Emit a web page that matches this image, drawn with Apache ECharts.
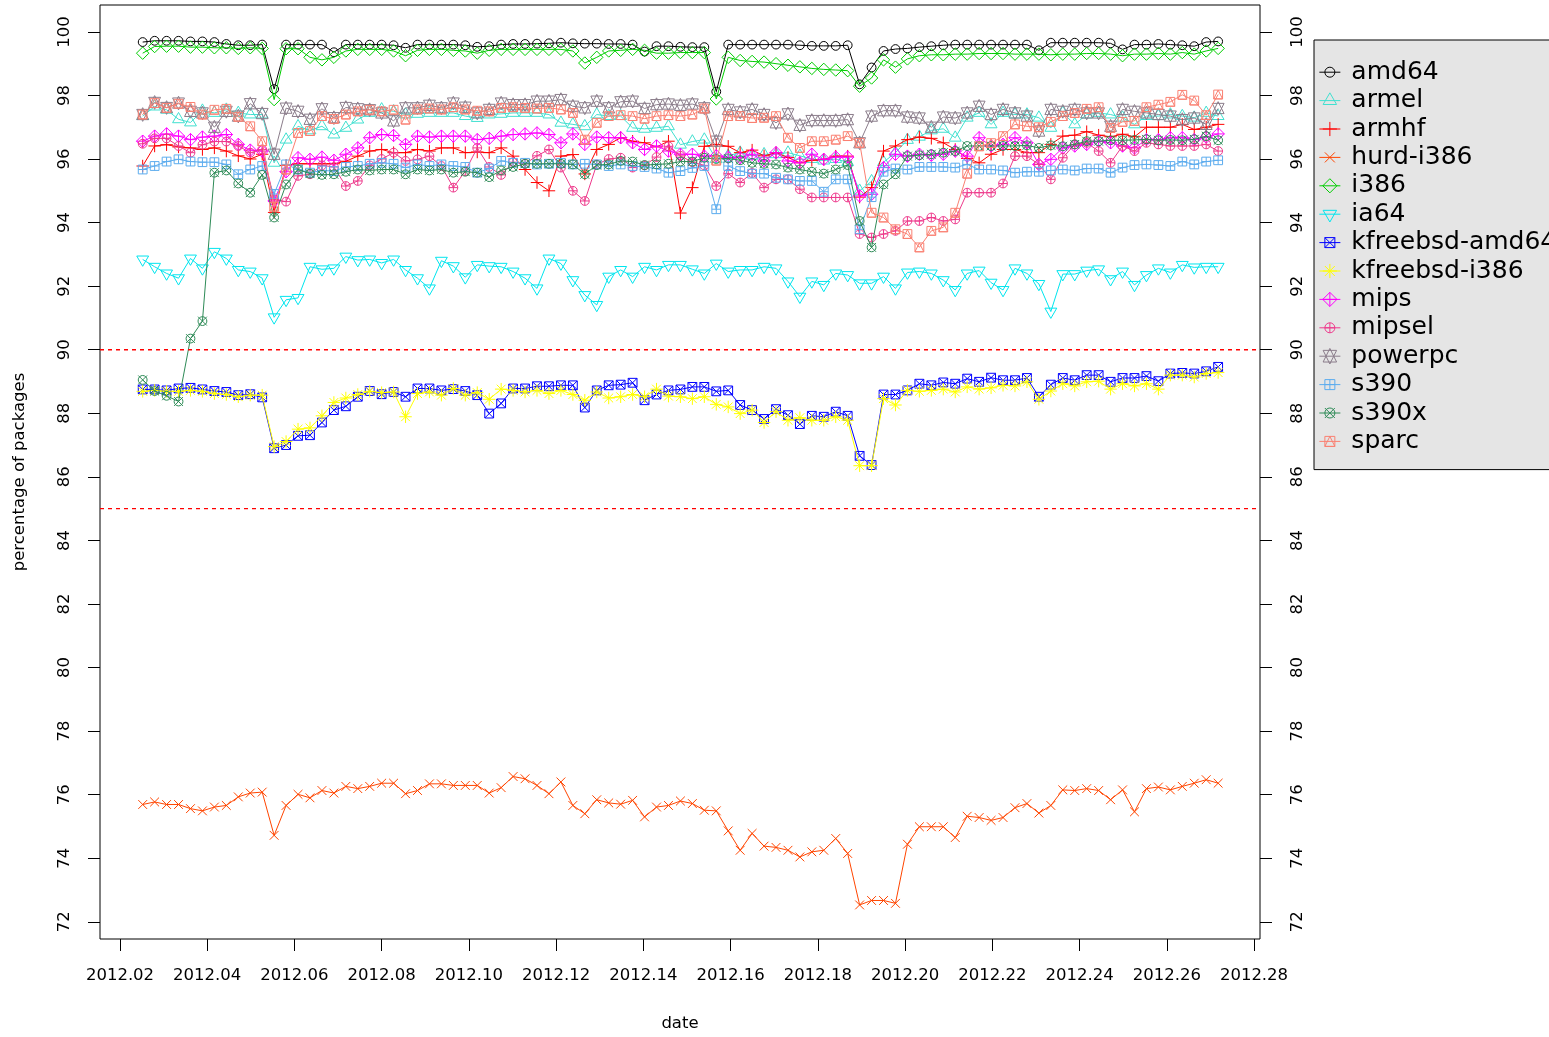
<!DOCTYPE html>
<html>
<head>
<meta charset="utf-8">
<script src="https://cdn.jsdelivr.net/npm/echarts@6/dist/echarts.min.js"></script>
<style>
html,body{margin:0;padding:0;background:#fff;}
#chart{width:1549px;height:1037px;}
</style>
</head>
<body>
<div id="chart"></div>
<script>
// ---- data ----
const firstDate = 2012.0252;      // first observation (fractional year)
const dayStep = 1 / 365;          // one observation per day
const nDays = 91;
const dates = Array.from({length: nDays}, (_, i) => +(firstDate + i * dayStep).toFixed(5));

const xTicks = [2012.02,2012.04,2012.06,2012.08,2012.10,2012.12,2012.14,2012.16,2012.18,2012.20,2012.22,2012.24,2012.26,2012.28];
const yTicks = [72,74,76,78,80,82,84,86,88,90,92,94,96,98,100];
const thresholds = [90, 85];

const amd64 = [99.68,99.72,99.72,99.72,99.70,99.70,99.68,99.62,99.58,99.58,99.60,98.20,99.60,99.60,99.60,99.60,99.36,99.60,99.60,99.60,99.60,99.58,99.50,99.60,99.60,99.60,99.60,99.58,99.53,99.55,99.60,99.62,99.62,99.63,99.64,99.66,99.64,99.63,99.63,99.62,99.62,99.60,99.38,99.55,99.55,99.53,99.52,99.52,98.12,99.60,99.60,99.60,99.60,99.60,99.60,99.58,99.56,99.56,99.56,99.58,98.35,98.88,99.40,99.46,99.48,99.52,99.55,99.58,99.60,99.60,99.60,99.60,99.60,99.60,99.60,99.42,99.66,99.66,99.66,99.66,99.66,99.64,99.45,99.60,99.60,99.62,99.60,99.58,99.55,99.68,99.70];
const armel = [97.35,97.65,97.55,97.25,97.15,97.52,97.45,97.55,97.45,97.40,97.40,95.88,96.61,97.03,96.90,97.03,96.77,96.98,97.24,97.45,97.56,97.50,97.40,97.42,97.45,97.45,97.45,97.35,97.29,97.40,97.42,97.45,97.45,97.45,97.40,97.14,97.09,97.03,97.40,97.35,97.35,96.98,96.95,96.98,97.03,96.45,96.55,96.61,96.00,96.10,96.20,96.10,96.15,96.15,96.20,96.10,96.00,95.95,96.00,95.90,95.00,95.30,95.90,96.20,96.60,96.70,96.90,96.95,96.67,97.30,97.45,97.09,97.45,97.40,97.40,97.30,96.98,97.45,97.09,97.40,97.45,97.40,97.30,97.09,97.35,97.35,97.40,97.35,97.30,97.45,97.35];
const armhf = [95.78,96.41,96.45,96.38,96.35,96.30,96.35,96.25,96.10,96.00,96.15,94.32,95.80,95.85,95.85,95.85,95.85,95.93,96.09,96.25,96.30,96.20,96.20,96.30,96.25,96.35,96.35,96.20,96.22,96.20,96.35,96.09,95.67,95.26,95.00,96.09,96.14,95.53,96.30,96.46,96.67,96.56,96.51,96.38,96.56,94.30,95.10,96.40,96.46,96.40,96.20,96.28,96.10,96.20,96.05,95.88,95.96,95.99,96.09,96.09,94.80,95.10,96.25,96.41,96.61,96.69,96.65,96.51,96.30,96.02,95.88,96.15,96.30,96.30,96.20,96.20,96.46,96.72,96.75,96.86,96.75,96.70,96.78,96.70,97.00,97.00,97.00,97.09,96.93,97.00,97.09];
const hurd = [75.69,75.77,75.69,75.69,75.56,75.49,75.61,75.66,75.93,76.05,76.08,74.72,75.66,76.01,75.90,76.13,76.05,76.26,76.19,76.26,76.36,76.36,76.03,76.13,76.34,76.34,76.29,76.29,76.29,76.05,76.22,76.57,76.50,76.29,76.03,76.40,75.66,75.40,75.84,75.74,75.70,75.82,75.30,75.61,75.66,75.80,75.72,75.51,75.49,74.86,74.25,74.78,74.38,74.34,74.25,74.04,74.20,74.25,74.62,74.15,72.53,72.67,72.67,72.58,74.44,74.99,74.99,74.99,74.65,75.32,75.28,75.19,75.28,75.59,75.72,75.42,75.66,76.15,76.13,76.19,76.13,75.84,76.15,75.46,76.19,76.24,76.15,76.26,76.36,76.47,76.36];
const i386 = [99.33,99.54,99.55,99.55,99.52,99.52,99.50,99.50,99.48,99.50,99.48,97.87,99.47,99.47,99.20,99.12,99.20,99.40,99.45,99.45,99.45,99.40,99.25,99.42,99.45,99.45,99.42,99.40,99.33,99.42,99.45,99.45,99.45,99.45,99.45,99.45,99.40,99.02,99.20,99.40,99.42,99.45,99.42,99.33,99.33,99.35,99.35,99.35,97.89,99.20,99.10,99.07,99.05,99.00,98.95,98.90,98.85,98.82,98.80,98.78,98.29,98.55,99.12,98.89,99.15,99.25,99.28,99.28,99.30,99.30,99.32,99.32,99.32,99.30,99.30,99.30,99.28,99.30,99.30,99.32,99.32,99.30,99.25,99.30,99.30,99.32,99.30,99.35,99.30,99.40,99.48];
const ia64 = [92.84,92.61,92.40,92.25,92.87,92.56,93.08,92.87,92.51,92.46,92.25,91.02,91.57,91.63,92.61,92.53,92.56,92.93,92.82,92.84,92.73,92.84,92.51,92.25,91.93,92.80,92.63,92.28,92.67,92.63,92.61,92.46,92.25,91.93,92.87,92.71,92.19,91.72,91.41,92.30,92.51,92.30,92.61,92.51,92.67,92.67,92.53,92.40,92.71,92.46,92.51,92.51,92.61,92.56,92.15,91.67,92.15,92.04,92.40,92.35,92.09,92.09,92.30,91.93,92.43,92.46,92.40,92.19,91.88,92.40,92.49,92.11,91.88,92.56,92.40,92.07,91.20,92.38,92.38,92.49,92.53,92.22,92.46,92.04,92.35,92.56,92.43,92.67,92.59,92.61,92.61];
const kfreebsdAmd64 = [88.75,88.75,88.72,88.78,88.80,88.75,88.70,88.67,88.57,88.60,88.50,86.90,87.00,87.29,87.31,87.71,88.10,88.22,88.52,88.70,88.60,88.67,88.52,88.78,88.78,88.72,88.76,88.70,88.57,87.99,88.31,88.78,88.78,88.85,88.85,88.88,88.88,88.18,88.72,88.88,88.90,88.96,88.41,88.59,88.72,88.75,88.83,88.83,88.69,88.72,88.26,88.10,87.82,88.13,87.94,87.66,87.92,87.89,88.05,87.92,86.66,86.37,88.59,88.59,88.72,88.93,88.88,88.97,88.93,89.09,88.99,89.12,89.04,89.04,89.11,88.52,88.90,89.11,89.04,89.20,89.20,88.99,89.11,89.11,89.17,89.01,89.25,89.27,89.25,89.32,89.46];
const kfreebsdI386 = [88.69,88.72,88.69,88.69,88.72,88.69,88.62,88.59,88.52,88.57,88.57,86.95,87.11,87.50,87.54,87.92,88.34,88.48,88.59,88.69,88.65,88.67,87.89,88.62,88.67,88.57,88.78,88.57,88.65,88.44,88.76,88.72,88.67,88.72,88.62,88.72,88.59,88.41,88.67,88.48,88.52,88.59,88.52,88.76,88.54,88.52,88.46,88.52,88.28,88.20,87.99,88.10,87.71,88.05,87.78,87.86,87.78,87.78,87.89,87.78,86.35,86.35,88.46,88.26,88.72,88.69,88.72,88.76,88.67,88.83,88.76,88.80,88.88,88.86,88.99,88.44,88.70,88.93,88.86,88.99,89.01,88.76,88.93,88.86,88.93,88.76,89.20,89.20,89.14,89.25,89.28];
const mips = [96.56,96.72,96.79,96.72,96.61,96.69,96.72,96.77,96.46,96.28,96.25,94.68,95.60,96.04,95.99,96.06,95.96,96.15,96.35,96.67,96.77,96.74,96.46,96.72,96.69,96.72,96.72,96.72,96.61,96.65,96.72,96.77,96.79,96.82,96.77,96.51,96.79,96.46,96.69,96.67,96.67,96.51,96.30,96.41,96.25,96.15,96.15,96.09,96.10,96.05,96.04,96.15,95.94,96.20,95.94,95.88,96.15,95.99,96.06,96.06,94.84,94.89,95.73,96.15,96.09,96.15,96.12,96.15,96.25,96.09,96.67,96.41,96.46,96.67,96.51,95.83,95.99,96.35,96.41,96.46,96.56,96.51,96.41,96.35,96.61,96.61,96.67,96.67,96.61,96.69,96.79];
const mipsel = [96.48,96.65,96.65,96.41,96.20,96.45,96.55,96.55,96.41,96.20,96.30,94.73,94.66,95.47,95.52,95.80,95.75,95.15,95.31,95.80,96.00,96.20,95.94,95.99,96.09,95.78,95.10,95.62,96.35,95.75,95.50,95.90,95.85,96.10,96.30,95.73,95.00,94.68,95.83,96.00,96.04,95.73,95.80,96.06,96.40,96.10,95.90,95.80,95.15,95.54,95.26,95.56,95.10,95.36,95.36,95.05,94.79,94.79,94.79,94.79,93.64,93.53,93.64,93.74,94.05,94.05,94.16,94.05,94.10,94.94,94.94,94.94,95.23,96.09,96.09,95.83,95.36,96.04,96.46,96.51,96.25,95.88,96.41,96.25,96.51,96.46,96.41,96.41,96.41,96.46,96.25];
const powerpc = [97.40,97.78,97.62,97.76,97.50,97.45,97.00,97.50,97.35,97.74,97.43,96.15,97.60,97.50,97.25,97.58,97.30,97.62,97.58,97.55,97.45,97.20,97.61,97.61,97.69,97.61,97.76,97.63,97.45,97.56,97.76,97.71,97.71,97.82,97.82,97.87,97.66,97.61,97.82,97.61,97.80,97.82,97.59,97.71,97.73,97.69,97.73,97.61,96.56,97.56,97.48,97.56,97.40,97.14,97.42,97.06,97.21,97.21,97.21,97.24,96.51,97.35,97.52,97.52,97.32,97.29,97.00,97.32,97.29,97.45,97.66,97.40,97.56,97.45,97.35,96.88,97.56,97.50,97.56,97.45,97.45,97.03,97.56,97.50,97.45,97.40,97.35,97.24,97.29,97.09,97.59];
const s390 = [95.67,95.78,95.92,95.99,95.92,95.90,95.90,95.83,95.52,95.67,95.78,94.90,95.83,95.67,95.57,95.64,95.62,95.75,95.78,95.85,95.88,95.85,95.73,95.83,95.78,95.83,95.78,95.75,95.57,95.70,95.94,95.88,95.88,95.83,95.85,95.88,95.83,95.85,95.83,95.78,95.83,95.78,95.75,95.70,95.57,95.62,95.72,95.78,94.42,95.78,95.62,95.54,95.54,95.41,95.36,95.31,95.31,94.97,95.36,95.36,93.79,94.80,95.60,95.70,95.67,95.75,95.75,95.75,95.73,95.83,95.67,95.67,95.64,95.57,95.60,95.60,95.64,95.67,95.64,95.70,95.70,95.57,95.73,95.81,95.83,95.81,95.78,95.92,95.83,95.92,95.96];
const s390x = [89.05,88.70,88.55,88.37,90.35,90.90,95.57,95.64,95.23,94.94,95.50,94.16,95.20,95.67,95.54,95.50,95.52,95.60,95.67,95.64,95.67,95.67,95.52,95.67,95.64,95.67,95.57,95.60,95.57,95.43,95.64,95.75,95.85,95.85,95.85,95.85,95.83,95.52,95.81,95.83,95.94,95.92,95.81,95.83,95.85,95.92,95.92,96.04,96.00,96.02,95.96,95.88,95.85,95.83,95.73,95.67,95.60,95.54,95.67,95.81,94.05,93.22,95.20,95.52,96.09,96.12,96.15,96.20,96.25,96.41,96.41,96.41,96.41,96.41,96.43,96.35,96.43,96.40,96.46,96.56,96.56,96.59,96.59,96.60,96.62,96.59,96.60,96.59,96.62,96.72,96.59];
const sparc = [97.40,97.76,97.61,97.74,97.64,97.40,97.55,97.58,97.33,97.03,96.56,94.50,95.67,96.82,96.88,97.35,97.26,97.40,97.50,97.55,97.50,97.55,97.24,97.56,97.59,97.56,97.63,97.56,97.52,97.50,97.61,97.63,97.61,97.59,97.61,97.56,97.45,96.61,97.14,97.35,97.38,97.35,97.27,97.35,97.38,97.35,97.40,97.59,95.95,97.35,97.35,97.29,97.30,97.35,96.67,96.35,96.56,96.56,96.61,96.72,96.51,94.31,94.16,93.79,93.64,93.22,93.74,93.85,94.31,95.54,96.40,96.50,96.72,97.09,97.03,97.00,97.17,97.35,97.45,97.58,97.63,96.98,97.17,97.20,97.63,97.71,97.80,98.02,97.84,97.38,98.03];

const seriesNames = ['amd64','armel','armhf','hurd-i386','i386','ia64','kfreebsd-amd64','kfreebsd-i386','mips','mipsel','powerpc','s390','s390x','sparc'];
const seriesValues = [amd64, armel, armhf, hurd, i386, ia64, kfreebsdAmd64, kfreebsdI386, mips, mipsel, powerpc, s390, s390x, sparc];
const seriesColors = ['#000000','#40E0D0','#FF0000','#FF4500','#00CD00','#00E5EE','#0000FF','#FFFF00','#FF00FF','#EE3A8C','#8B7D8B','#5CACEE','#2E8B57','#FA8072'];

// ---- R-style plotting characters (pch 1..14), drawn in a 20x20 box ----
const BB = 'M0 0M20 20';
const CIRC = 'M5.6 10A4.4 4.4 0 1 1 14.4 10A4.4 4.4 0 1 1 5.6 10Z';
const SQ = 'M5.6 5.6L14.4 5.6L14.4 14.4L5.6 14.4Z';
const XS = 'M5.6 5.6L14.4 14.4M14.4 5.6L5.6 14.4';
const PS = 'M5.6 10L14.4 10M10 5.6L10 14.4';
const PL = 'M3.78 10L16.22 10M10 3.78L10 16.22';
const DIA = 'M10 3.78L16.22 10L10 16.22L3.78 10Z';
const pch = [
  BB + CIRC,                                   // 1
  BB + 'M10 3.16L15.93 13.42L4.07 13.42Z',     // 2
  BB + PL,                                     // 3
  BB + XS,                                     // 4
  BB + DIA,                                    // 5
  BB + 'M10 16.84L15.93 6.58L4.07 6.58Z',      // 6
  BB + SQ + XS,                                // 7
  BB + XS + PL,                                // 8
  BB + DIA + PL,                               // 9
  BB + CIRC + PS,                              // 10
  BB + 'M10 3.16L15.93 15.13L4.07 15.13ZM10 16.84L15.93 4.87L4.07 4.87Z', // 11
  BB + SQ + PS,                                // 12
  BB + CIRC + XS,                              // 13
  BB + SQ + 'M10 5.6L14.4 14.4L5.6 14.4Z'      // 14
].map(p => 'path://' + p);

const FONT = 'DejaVu Sans';

const series = seriesNames.map((name, k) => ({
  name: name,
  type: 'line',
  data: dates.map((d, i) => [d, seriesValues[k][i]]),
  symbol: pch[k],
  symbolSize: 20,
  showAllSymbol: true,
  itemStyle: {color: 'none', borderColor: seriesColors[k], borderWidth: 1},
  lineStyle: {color: seriesColors[k], width: 1},
  emphasis: {disabled: true},
  silent: true,
  z: 2 + k
}));

// scale: grid box is the R plot box (100..1260 x 5..943)
const xMin = 2012.015414, xMax = 2012.281376;
const yMin = 71.458, yMax = 100.846;
const boxLeft = 100, boxRight = 1260;

const axisText = {fontFamily: FONT, fontSize: 16.5, color: '#000'};

const chart = echarts.init(document.getElementById('chart'), null, {renderer: 'canvas'});
chart.setOption({
  animation: false,
  backgroundColor: '#ffffff',
  textStyle: {fontFamily: FONT},
  grid: {left: boxLeft, top: 5, right: 1549 - boxRight, bottom: 94, show: true, borderColor: '#000', borderWidth: 1, backgroundColor: 'transparent'},
  xAxis: {
    type: 'value', min: xMin, max: xMax,
    name: 'date', nameLocation: 'middle', nameGap: 76, nameTextStyle: axisText,
    axisLine: {show: false},
    splitLine: {show: false},
    axisTick: {show: true, length: 12, customValues: xTicks, lineStyle: {color: '#000', width: 1}},
    axisLabel: {customValues: xTicks, margin: 28, formatter: v => v.toFixed(2), ...axisText}
  },
  yAxis: [
    {
      type: 'value', min: yMin, max: yMax, position: 'left',
      name: 'percentage of packages', nameLocation: 'middle', nameGap: 72, nameRotate: 90, nameTextStyle: axisText,
      axisLine: {show: false},
      splitLine: {show: false},
      axisTick: {show: true, length: 12, customValues: yTicks, lineStyle: {color: '#000', width: 1}},
      axisLabel: {customValues: yTicks, rotate: 90, margin: 27, formatter: v => String(Math.round(v)), ...axisText}
    },
    {
      type: 'value', min: yMin, max: yMax, position: 'right',
      axisLine: {show: false},
      splitLine: {show: false},
      axisTick: {show: true, length: 12, customValues: yTicks, lineStyle: {color: '#000', width: 1}},
      axisLabel: {customValues: yTicks, rotate: 90, margin: 29, formatter: v => String(Math.round(v)), ...axisText}
    }
  ],
  legend: {
    orient: 'vertical',
    left: 1314, top: 40,
    padding: [18, 40, 14, 2],
    itemGap: 0,
    itemWidth: 21,
    itemHeight: 28.4,
    selectedMode: false,
    backgroundColor: '#E5E5E5',
    borderColor: '#000',
    borderWidth: 1,
    borderRadius: 0,
    itemStyle: {borderWidth: 1},
    lineStyle: {width: 1},
    textStyle: {fontFamily: FONT, fontSize: 25, color: '#000', lineHeight: 28.4, padding: [0, 0, 0, 6]},
    data: seriesNames
  },
  series: series
});

// dashed red reference lines (abline h=90, h=85) placed through the y scale
const refLines = thresholds.map(t => {
  const y = chart.convertToPixel({yAxisIndex: 0}, t);
  return {
    type: 'line',
    silent: true,
    z: 50,
    shape: {x1: boxLeft, y1: y, x2: boxRight, y2: y},
    style: {stroke: '#FF0000', lineWidth: 1.4, lineDash: [4, 4]}
  };
});
chart.setOption({graphic: refLines});
</script>
</body>
</html>
